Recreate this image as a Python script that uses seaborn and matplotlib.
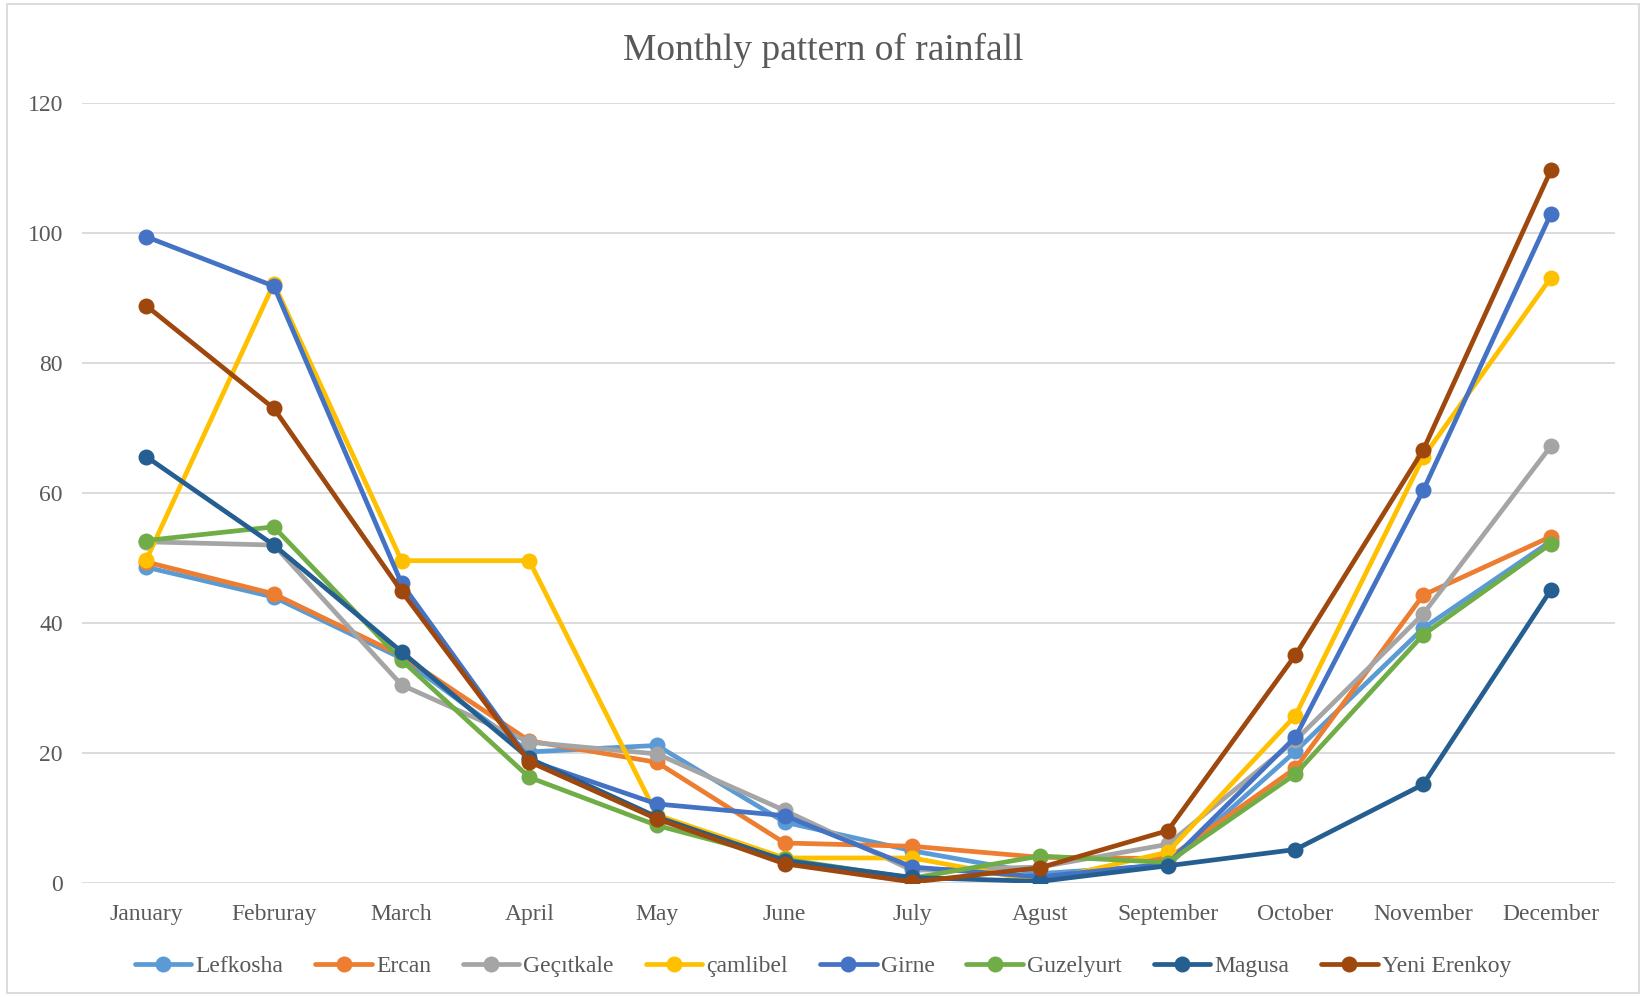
import pandas as pd
import matplotlib.pyplot as plt
from matplotlib.patches import Rectangle
import seaborn as sns

months = ['January', 'Februray', 'March', 'April', 'May', 'June', 'July',
          'Agust', 'September', 'October', 'November', 'December']

lefkosha = [48.6, 44.0, 34.6, 20.2, 21.2, 9.4, 5.0, 1.5, 2.8, 20.3, 39.2, 52.6]
ercan = [49.4, 44.5, 35.0, 21.9, 18.6, 6.2, 5.7, 4.0, 3.8, 17.7, 44.3, 53.3]
gecitkale = [52.5, 52.0, 30.5, 21.7, 19.9, 11.2, 2.0, 2.5, 6.0, 22.0, 41.4, 67.2]
camlibel = [49.7, 92.2, 49.6, 49.6, 10.5, 3.9, 3.9, 0.3, 4.8, 25.8, 65.5, 93.1]
girne = [99.4, 91.8, 46.1, 18.9, 12.2, 10.4, 2.5, 1.0, 3.0, 22.5, 60.4, 102.9]
guzelyurt = [52.7, 54.8, 34.3, 16.3, 8.9, 3.7, 0.8, 4.2, 3.2, 16.8, 38.2, 52.2]
magusa = [65.6, 52.0, 35.6, 19.2, 10.2, 3.5, 0.9, 0.3, 2.7, 5.2, 15.2, 45.1]
yeni_erenkoy = [88.8, 73.0, 44.9, 18.7, 9.9, 3.0, 0.2, 2.4, 8.1, 35.1, 66.6, 109.6]

stations = ['Lefkosha', 'Ercan', 'Geçıtkale', 'çamlibel', 'Girne',
            'Guzelyurt', 'Magusa', 'Yeni Erenkoy']
series = [lefkosha, ercan, gecitkale, camlibel, girne, guzelyurt, magusa, yeni_erenkoy]
colors = ['#5B9BD5', '#ED7D31', '#A5A5A5', '#FFC000', '#4472C4',
          '#70AD47', '#255E91', '#9E480E']

rows = []
for name, vals in zip(stations, series):
    for i, v in enumerate(vals):
        rows.append({'month': i, 'station': name, 'rain': v})
df = pd.DataFrame(rows)

sns.set_style('white')
plt.rcParams['font.family'] = ['Liberation Serif', 'DejaVu Serif']
text_col = '#595959'

fig = plt.figure(figsize=(16.46, 9.97), dpi=100)
ax = fig.add_axes([0.050, 0.114, 0.931, 0.783])

sns.lineplot(data=df, x='month', y='rain', hue='station', hue_order=stations,
             palette=colors, marker='o', markersize=11.5, markeredgewidth=0,
             linewidth=3.4, ax=ax, legend=True, sort=False)

ax.set_xlim(-0.5, 11.5)
ax.set_ylim(0, 120)
ax.set_yticks(range(0, 121, 20))
ax.set_xticks(range(12))
ax.set_xticklabels(months)
ax.yaxis.grid(True, color='#D9D9D9', linewidth=1.3)
ax.xaxis.grid(False)
ax.set_axisbelow(True)
for s in ax.spines.values():
    s.set_visible(False)
ax.tick_params(axis='both', length=0, labelsize=17, colors=text_col)
ax.tick_params(axis='y', pad=14)
ax.tick_params(axis='x', pad=15)
ax.set_xlabel('')
ax.set_ylabel('')

handles, labels = ax.get_legend_handles_labels()
ax.get_legend().remove()
fig.legend(handles, labels, loc='center', bbox_to_anchor=(0.5, 0.031), ncol=8,
           frameon=False, fontsize=17, handlelength=2.4, columnspacing=1.35,
           handletextpad=0.17, labelcolor=text_col)

fig.text(0.5, 0.949, 'Monthly pattern of rainfall', ha='center', va='center',
         fontsize=27, color=text_col)

fig.patches.append(Rectangle((0.004, 0.004), 0.992, 0.992, transform=fig.transFigure,
                             fill=False, edgecolor='#D9D9D9', linewidth=1.3))

fig.savefig('out.png', dpi=100)
